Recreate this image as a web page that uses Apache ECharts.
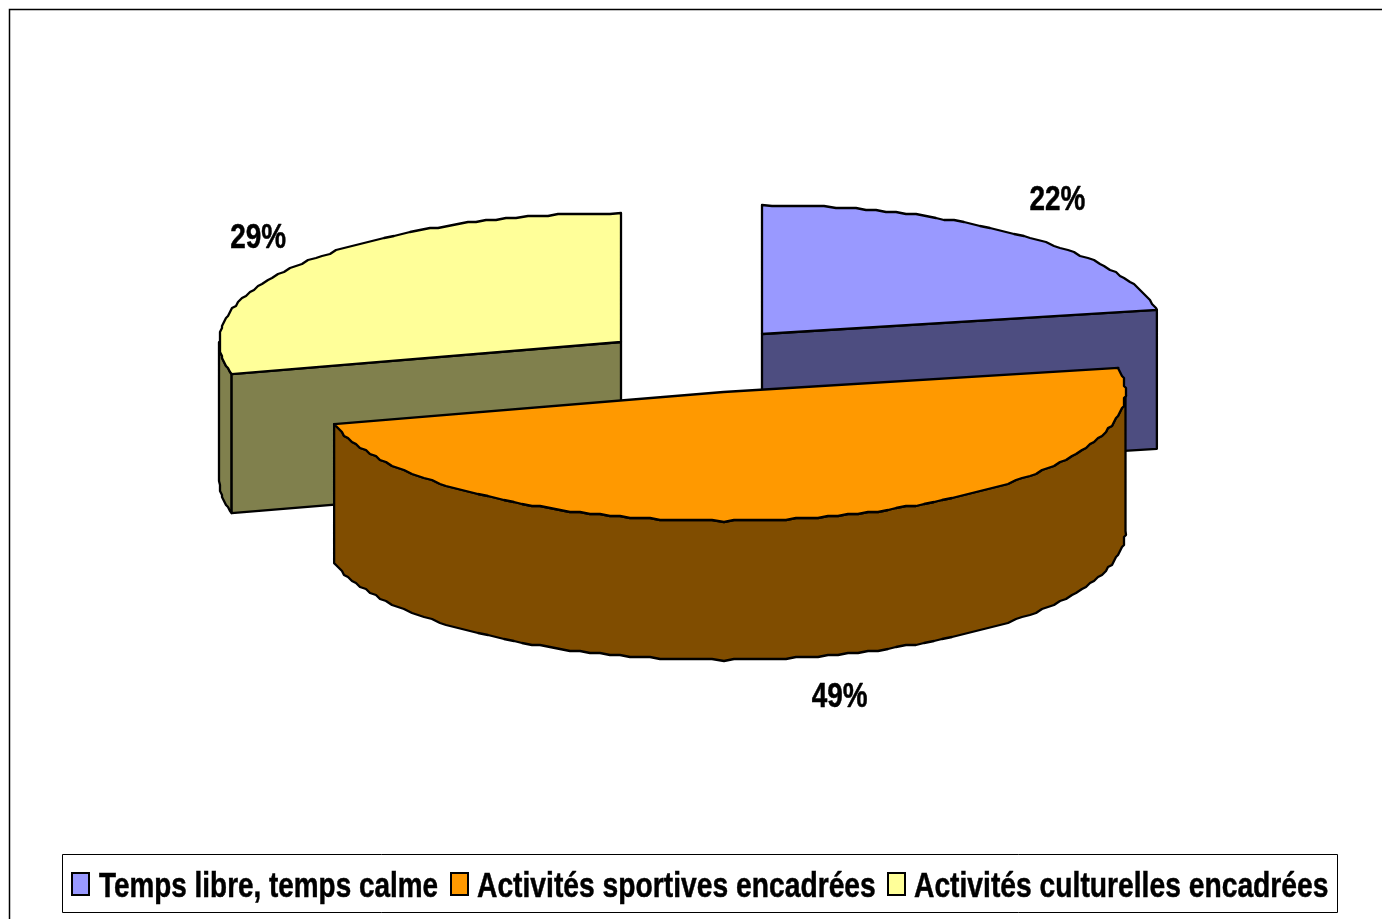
<!DOCTYPE html>
<html><head><meta charset="utf-8">
<style>html,body{margin:0;padding:0;background:#fff}#c{width:1382px;height:919px}</style>
<script src="https://cdn.jsdelivr.net/npm/echarts@6/dist/echarts.min.js"></script>
</head><body><div id="c"></div>
<script>
const categories = ['Temps libre, temps calme', 'Activités sportives encadrées', 'Activités culturelles encadrées'];
const shares = [22, 49, 29];
const topColors = ['#9999FF', '#FF9900', '#FFFF99'];
const sideColors = ['#4D4D80', '#804D00', '#80804D'];

// layout of the exploded 3D pie
const RX = 402, RY = 129, DEPTH = 139;
const apexes = [[762, 334], [723.5, 392], [621, 342]];
const labelReach = [[1.153, 1.34], [1.325, 1.29], [1.142, 1.305]];
const labelDrop = [0, 143, 0];
const legendIconX = [72, 451, 888];
const legendTextX = [99, 477, 914];
const legendSqueeze = [0.797, 0.807, 0.807];
const FONT = 'bold 35px "Liberation Sans",Arial,sans-serif';
const SQUEEZE = 0.797;
const GRID = 2; // the source drawing's coarse outline resolution
const STEP = 1.5;
const total = shares.reduce((a, b) => a + b, 0);

function angles(i) {
  const before = shares.slice(0, i).reduce((a, b) => a + b, 0);
  const a1 = 90 - before / total * 360;
  return [a1, a1 - shares[i] / total * 360];
}
const snap = v => Math.round(v / GRID) * GRID;
function arc(c, from, to, dy) {
  const at = (deg, snapped) => {
    const t = deg * Math.PI / 180;
    const x = c[0] + RX * Math.cos(t), y = c[1] - RY * Math.sin(t);
    return snapped ? [snap(x), snap(y) + dy] : [x, y + dy];
  };
  const dir = to > from ? 1 : -1;
  const pts = [at(from, false)];
  let d = dir > 0 ? Math.floor(from / STEP + 1) * STEP : Math.ceil(from / STEP - 1) * STEP;
  for (; dir > 0 ? d < to : d > to; d += dir * STEP) pts.push(at(d, true));
  pts.push(at(to, false));
  return pts;
}
function renderSlice(i) {
  return function (params, api) {
    const val = api.value(0);
    const [a1, a2] = angles(i);
    const c = apexes[i];
    const fill = api.visual('color');
    const line = {stroke: '#000', lineWidth: 2.3, lineJoin: 'round'};
    const poly = (points, f) => ({type: 'polygon', shape: {points}, style: Object.assign({fill: f}, line)});
    const kids = [];
    const pt = a => arc(c, a, a, 0)[0];
    const radial = a => {
      const p = pt(a);
      return poly([c, p, [p[0], p[1] + DEPTH], [c[0], c[1] + DEPTH]], sideColors[i]);
    };
    const rimFrom = Math.min(a1, 0), rimTo = Math.max(a2, -180);
    if (rimFrom > rimTo) {
      const upper = arc(c, rimFrom, rimTo, 0), lower = arc(c, rimTo, rimFrom, DEPTH);
      kids.push(poly(upper.concat(lower), sideColors[i]));
    }
    if (Math.cos(a1 * Math.PI / 180) < -1e-6) kids.push(radial(a1));
    if (Math.cos(a2 * Math.PI / 180) > 1e-6) kids.push(radial(a2));
    kids.push(poly([c].concat(arc(c, a1, a2, 0)), fill));
    const mid = (a1 + a2) / 2 * Math.PI / 180;
    kids.push({
      type: 'text', z2: 10,
      x: c[0] + RX * labelReach[i][0] * Math.cos(mid),
      y: c[1] - RY * labelReach[i][1] * Math.sin(mid) + labelDrop[i],
      scaleX: SQUEEZE,
      style: {
        x: 0, y: 0,
        text: Math.round(val / total * 100) + '%',
        fill: '#000', stroke: '#000', lineWidth: 0.5,
        align: 'center', verticalAlign: 'middle',
        font: FONT
      }
    });
    return {type: 'group', children: kids};
  };
}
const legendGraphics = [{
  type: 'rect', silent: true,
  shape: {x: 62.5, y: 854.5, width: 1275, height: 58},
  style: {fill: '#fff', stroke: '#000', lineWidth: 1}
}];
categories.forEach((name, i) => {
  legendGraphics.push({
    type: 'rect', silent: true,
    shape: {x: legendIconX[i], y: 873, width: 17, height: 22},
    style: {fill: topColors[i], stroke: '#000', lineWidth: 2}
  });
  legendGraphics.push({
    type: 'text', silent: true,
    x: legendTextX[i], y: 887, scaleX: legendSqueeze[i],
    style: {x: 0, y: 0, text: name, fill: '#000', stroke: '#000', lineWidth: 0.5, align: 'left', verticalAlign: 'middle', font: FONT}
  });
});
const chart = echarts.init(document.getElementById('c'), null, {renderer: 'canvas'});
chart.setOption({
  animation: false,
  backgroundColor: '#fff',
  graphic: [{
    type: 'polyline', silent: true,
    shape: {points: [[9.5, 930], [9.5, 9.5], [1392, 9.5]]},
    style: {fill: 'none', stroke: '#000', lineWidth: 1.5}
  }].concat(legendGraphics),
  series: shares.map((v, i) => ({
    type: 'custom',
    name: categories[i],
    coordinateSystem: 'none',
    silent: true,
    z: [2, 4, 3][i],
    itemStyle: {color: topColors[i]},
    data: [[v]],
    renderItem: renderSlice(i)
  }))
});
</script></body></html>
